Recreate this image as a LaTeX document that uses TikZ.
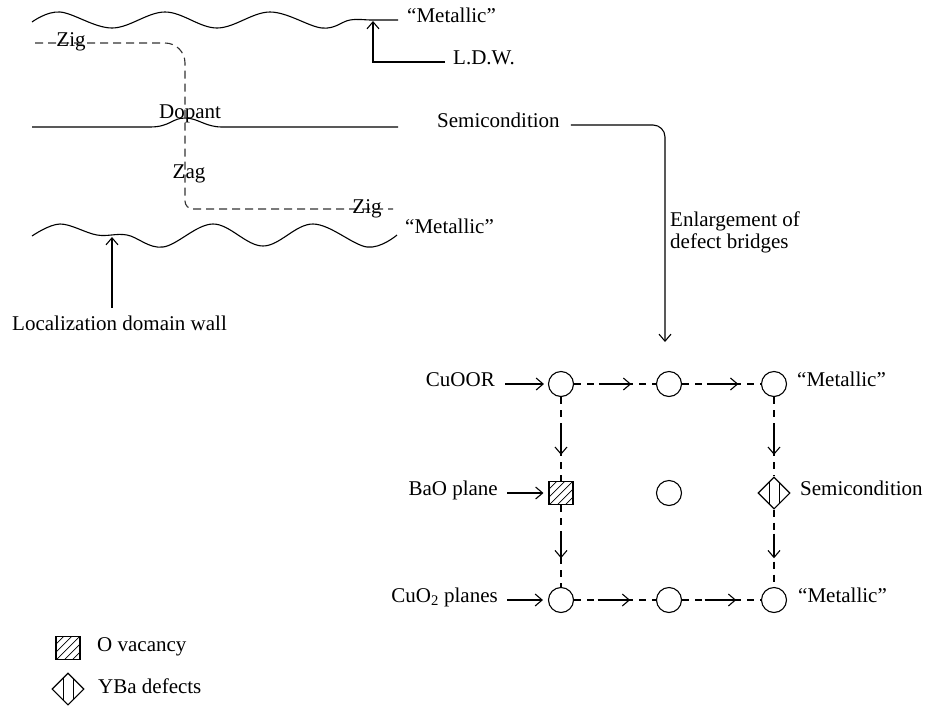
\documentclass[tikz,border=0pt]{standalone}
\usepackage{fontspec}
\setmainfont{Liberation Serif}
\usetikzlibrary{arrows.meta,shapes.geometric,calc}
\begin{document}
\begin{tikzpicture}[x=1pt,y=-1pt,
  font=\fontsize{21}{21.5}\selectfont,
  tip/.style={-{Straight Barb[length=7pt,width=12pt]}},
  ln/.style={line width=1.1pt},
  lbl/.style={inner sep=0pt},
  atom/.style={circle,draw,line width=1.1pt,minimum size=25pt,inner sep=0pt},
  vac/.style={rectangle,draw,line width=1.1pt,minimum width=24pt,minimum height=23pt,inner sep=0pt,
    path picture={\foreach \d in {-16,-8,0,8,16}{\draw[line width=0.7pt] ($(path picture bounding box.center)+(\d-20,20)$) -- ++(40,-40);}}},
  ybd/.style={diamond,draw,line width=1.1pt,minimum width=32pt,minimum height=32pt,inner sep=0pt,
    path picture={\foreach \d in {-5,5}{\draw[line width=0.8pt] ($(path picture bounding box.center)+(\d,-20)$) -- ++(0,40);}}},
  gdash/.style={line width=1.1pt,dash pattern=on 7pt off 6pt},
  zdash/.style={line width=1.1pt,dash pattern=on 8pt off 5pt,draw=black!80},
]
\useasboundingbox (0,0) rectangle (927,705);

% ---- wavy / dopant lines ----
\draw[ln] plot[smooth,tension=0.6] coordinates {(32,22) (60,12) (112,28) (165,12) (217,28) (270,12) (322,28) (350,20) (372,20) (398,20)};
\draw[ln] (32,127) -- (150,127) .. controls (170,127) and (172,118) .. (185,118) .. controls (198,118) and (205,127) .. (222,127) -- (398,127);
\draw[ln] plot[smooth,tension=0.6] coordinates {(32,236) (60,224) (97,235) (127,235) (163,247) (213,224) (263,246) (313,224) (367,247) (397,235)};

% ---- zig-zag dashed path ----
\draw[zdash,rounded corners=20pt] (35,43) -- (185,43) -- (185,130) [rounded corners=8pt] -- (185,209) -- (393,209);

% ---- texts (left part) ----
\node[lbl,anchor=mid] (zig1) at (71,44) {Zig};
\node[lbl,anchor=mid] (dop) at (190,116) {Dopant};
\node[lbl,anchor=mid] (zag) at (189,176) {Zag};
\node[lbl,anchor=mid] (zig2) at (367,211) {Zig};
\node[lbl,anchor=mid west] (mtop) at (407,20) {“Metallic”};
\node[lbl,anchor=mid west] (ldw) at (453,62) {L.D.W.};
\node[lbl,anchor=mid west] (semi) at (437,125) {Semicondition};
\node[lbl,anchor=mid west] (mbot) at (405,231) {“Metallic”};
\node[lbl,anchor=north west,align=left] (enl) at (670,212) {Enlargement of\\defect bridges};
\node[lbl,anchor=mid west] (loc) at (12,328) {Localization domain wall};

\coordinate (ldwtip) at (373,21);
\draw[ln,tip] ([xshift=-8pt]ldw.mid west) -| (ldwtip);
\coordinate (enltip) at (665,342);
\draw[ln,tip,rounded corners=12pt] ([xshift=11pt]semi.mid east) -| (enltip);
\coordinate (locup) at (112,237);
\draw[ln,tip] (loc.north -| locup) ++(0,-8) -- (locup);

% ---- lattice ----
\node[atom] (c11) at (561,384) {};
\node[atom] (c12) at (669,384) {};
\node[atom] (c13) at (774,384) {};
\node[vac]  (bao) at (561,493) {};
\node[atom] (c22) at (669,493) {};
\node[ybd]  (ybd) at (774,493) {};
\node[atom] (c31) at (561,600) {};
\node[atom] (c32) at (669,600) {};
\node[atom] (c33) at (774,600) {};

\foreach \a/\b/\s/\e in {c11/c12/0.35/0.65, c12/c13/0.36/0.66, c31/c32/0.34/0.64, c32/c33/0.34/0.64,
                          c11/bao/0.42/0.65, bao/c31/0.38/0.61, c13/ybd/0.42/0.65, ybd/c33/0.38/0.61}{
  \draw[gdash] (\a) -- (\b);
  \draw[ln,tip] ($(\a)!\s!(\b)$) -- ($(\a)!\e!(\b)$);
}

\node[lbl,anchor=mid east] (cuoor) at (495,384) {CuOOR};
\node[lbl,anchor=mid east] (baop) at (498,493) {BaO plane};
\node[lbl,anchor=mid east] (cuo2) at (498,600) {CuO\textsubscript{2} planes};
\draw[ln,tip,shorten >=4pt] ([xshift=10pt]cuoor.mid east) -- (c11.west);
\draw[ln,tip,shorten >=5pt] ([xshift=9pt]baop.mid east) -- (bao.west);
\draw[ln,tip,shorten >=5pt] ([xshift=9pt]cuo2.mid east) -- (c31.west);

\node[lbl,anchor=mid west] (m1) at (797,384) {“Metallic”};
\node[lbl,anchor=mid west] (s1) at (800,493) {Semicondition};
\node[lbl,anchor=mid west] (m2) at (798,600) {“Metallic”};

% ---- legend ----
\node[vac] (lv) at (68,648) {};
\node[lbl,anchor=mid west] (lvt) at (97,649) {O vacancy};
\node[ybd] (ly) at (68,689) {};
\node[lbl,anchor=mid west] (lyt) at (98,691) {YBa defects};
\end{tikzpicture}
\end{document}
